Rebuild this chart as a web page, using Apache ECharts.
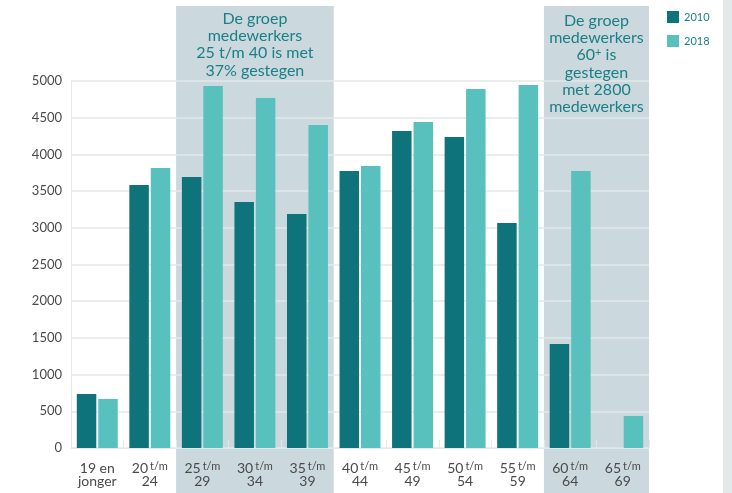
<!DOCTYPE html>
<html><head><meta charset="utf-8">
<script src="https://cdn.jsdelivr.net/npm/echarts@6/dist/echarts.min.js"></script>
<style>html,body{margin:0;padding:0;background:#fff;}#c{width:732px;height:493px;}</style>
</head><body><div id="c"></div>
<script>
const categories = ['19 en jonger','20 t/m 24','25 t/m 29','30 t/m 34','35 t/m 39','40 t/m 44','45 t/m 49','50 t/m 54','55 t/m 59','60 t/m 64','65 t/m 69'];
const v2010 = [736, 3583, 3692, 3351, 3188, 3774, 4319, 4237, 3065, 1417, null];
const v2018 = [668, 3815, 4932, 4768, 4401, 3842, 4441, 4891, 4946, 3774, 436];
const seriesNames = ['2010','2018'];
const band1 = {from: 2, to: 4, text: 'De groep\nmedewerkers\n25 t/m 40 is met\n37% gestegen'};
const band2 = {from: 9, to: 10, text: 'De groep\nmedewerkers\n60{sup|+} is\ngestegen\nmet 2800\nmedewerkers'};

const FONT = 'Lato, "Open Sans", sans-serif';
const teal = '#1a7f86';
const chart = echarts.init(document.getElementById('c'));
chart.setOption({
  animation: false,
  textStyle: {fontFamily: FONT},
  grid: {left: 71, right: 83, top: 81, bottom: 45},
  legend: {
    orient: 'vertical', left: 662, top: 6, icon: 'rect', itemWidth: 12, itemHeight: 12, itemGap: 12,
    textStyle: {color: teal, fontSize: 11, fontFamily: FONT},
    data: seriesNames
  },
  xAxis: {
    type: 'category', data: categories,
    axisLine: {show: true, lineStyle: {color: '#e3e9ea', width: 1}},
    axisTick: {show: true, inside: true, length: 8, lineStyle: {color: '#e3e9ea'}},
    axisLabel: {
      margin: 14, color: '#4a4a4a', fontSize: 14, lineHeight: 13, interval: 0,
      formatter: function (v) {
        const p = v.split(' ');
        if (p[1] === 'en') { return p[0] + ' ' + p[1] + '\n' + p[2]; }
        return p[0] + '{s|' + p[1] + '}\n' + p[2];
      },
      rich: {s: {fontSize: 11, color: '#4a4a4a', padding: [0, 0, 5, 2], fontFamily: FONT}}
    }
  },
  yAxis: {
    type: 'value', min: 0, max: 5000, interval: 500, z: 1,
    axisLine: {show: true, lineStyle: {color: '#e3e9ea'}},
    axisTick: {show: false},
    splitLine: {lineStyle: {color: '#e3e9ea', width: 1.5}},
    axisLabel: {color: '#4a4a4a', fontSize: 13, margin: 9, formatter: function (v) { return String(v); }}
  },
  series: [
    {name: seriesNames[0], type: 'bar', data: v2010, barWidth: 19.5, barGap: '10%', itemStyle: {color: '#0f737c'}},
    {name: seriesNames[1], type: 'bar', data: v2018, barWidth: 19.5, barGap: '10%', itemStyle: {color: '#58c1bd'}}
  ]
});

function bandGraphic(b, textTop) {
  const c0 = chart.convertToPixel({xAxisIndex: 0}, categories[0]);
  const c1 = chart.convertToPixel({xAxisIndex: 0}, categories[1]);
  const w = c1 - c0;
  const x0 = chart.convertToPixel({xAxisIndex: 0}, categories[b.from]) - w / 2;
  const x1 = chart.convertToPixel({xAxisIndex: 0}, categories[b.to]) + w / 2;
  return [
    {type: 'rect', silent: true, z: -1, shape: {x: x0, y: 6, width: x1 - x0, height: 493 - 6}, style: {fill: '#cbd8de'}},
    {type: 'text', silent: true, z: 10, x: (x0 + x1) / 2, y: textTop, style: {
      text: b.text, fill: teal, font: '16px ' + FONT, fontSize: 16, fontFamily: FONT,
      align: 'center', verticalAlign: 'top', lineHeight: 17.3,
      rich: {sup: {fontSize: 11, fill: teal, padding: [0, 0, 6, 0], fontFamily: FONT}}
    }}
  ];
}
chart.setOption({graphic: [
  ...bandGraphic(band1, 10),
  ...bandGraphic(band2, 12),
  {type: 'rect', silent: true, z: -1, shape: {x: 723, y: 0, width: 9, height: 493}, style: {fill: '#e3e9ea'}}
]});
</script>
</body></html>
